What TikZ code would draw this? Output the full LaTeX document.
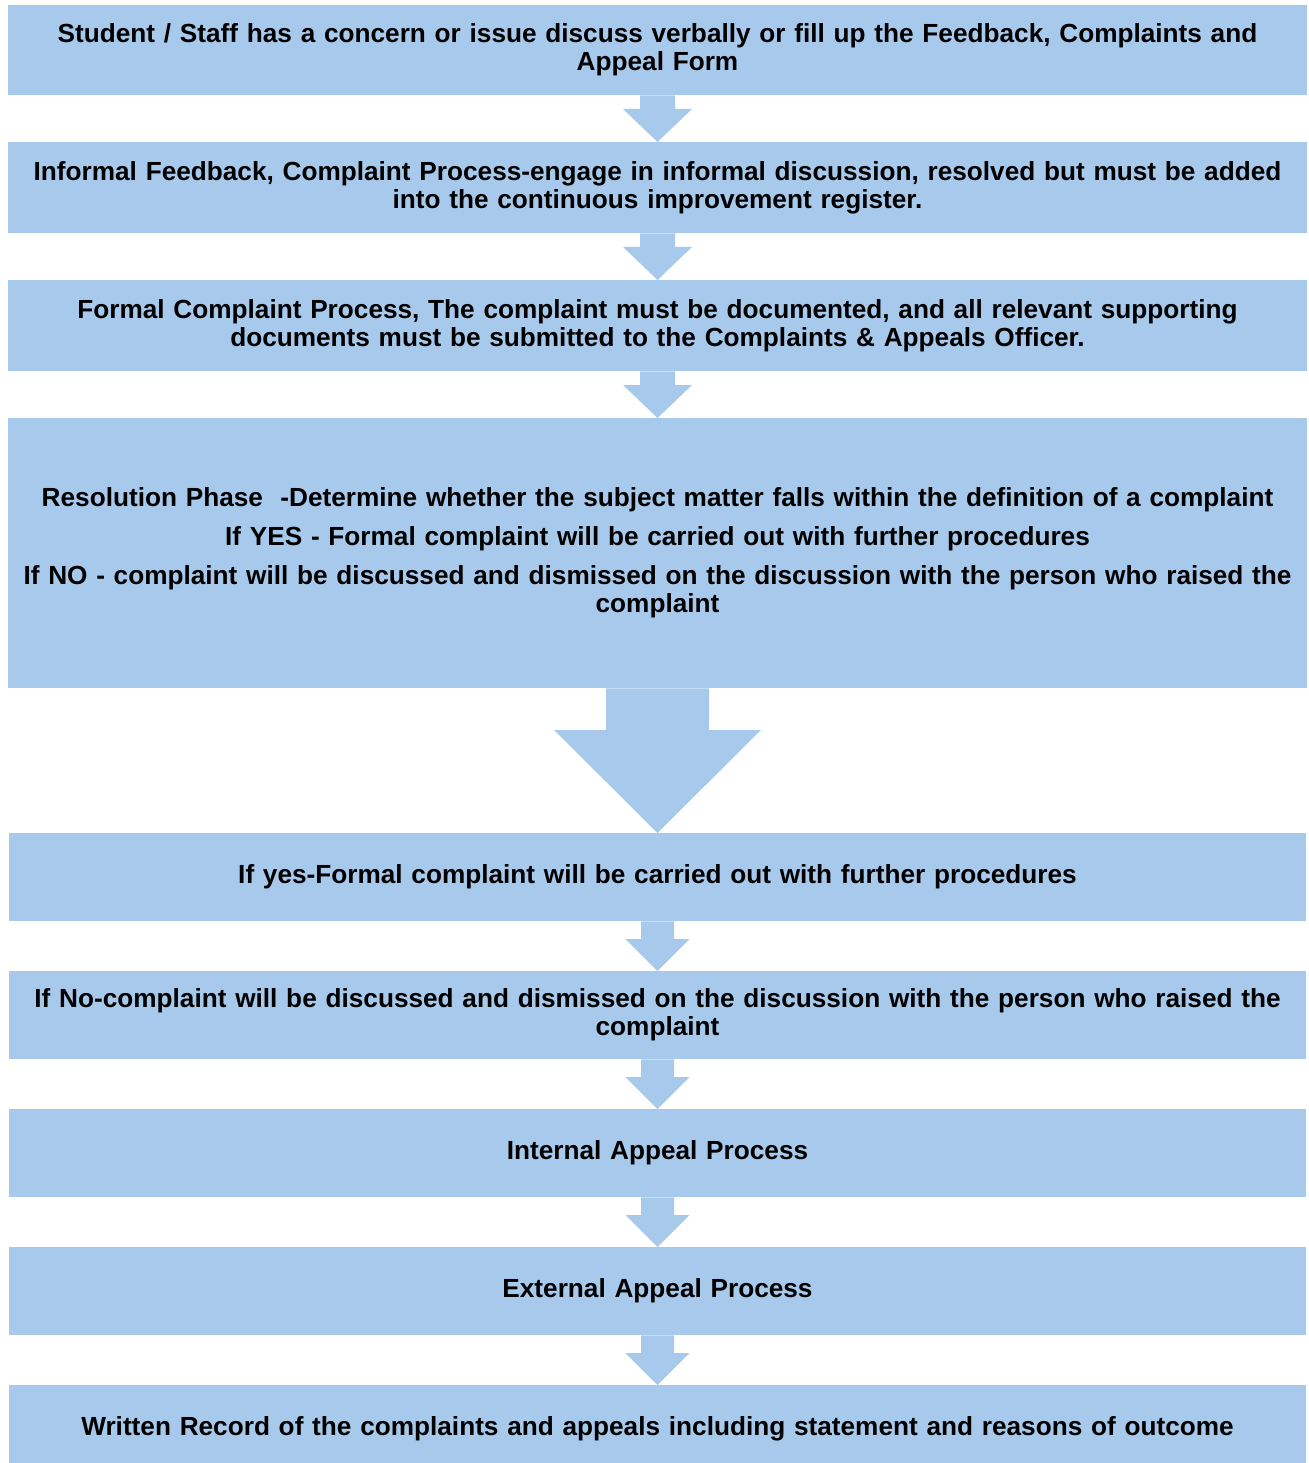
\documentclass[tikz,border=0pt]{standalone}
\usepackage{fontspec}
\setmainfont{Liberation Sans}
\usetikzlibrary{calc}

\definecolor{stepblue}{HTML}{A7CAEC}

\tikzset{
  stepbox/.style={fill=stepblue, anchor=north, inner sep=0pt, minimum width=1299pt,
    text width=1295pt, align=center, font=\fontsize{26.2}{28}\selectfont\bfseries},
}

% arrow from the bottom of one box to the top of the next:
% #1 from, #2 to, #3 half stem, #4 half head, #5 head length
\newcommand{\flowarrow}[5]{%
  \fill[stepblue] ([xshift=-#3]#1.south) -- ([xshift=-#3,yshift=#5]#2.north)
    -- ([xshift=-#4,yshift=#5]#2.north) -- (#2.north)
    -- ([xshift=#4,yshift=#5]#2.north) -- ([xshift=#3,yshift=#5]#2.north)
    -- ([xshift=#3]#1.south) -- cycle;}

\begin{document}
\begin{tikzpicture}[x=1pt,y=-1pt]
    \useasboundingbox (0,0) rectangle (1308,1463);

    \node[stepbox, minimum height=90pt]  (concern)  at (657.5,5)    {Student / Staff has a concern or issue discuss verbally or fill up the Feedback, Complaints and\\ Appeal Form};
    \node[stepbox, minimum height=91pt]  (informal) at (657.5,142)  {Informal Feedback, Complaint Process-engage in informal discussion, resolved but must be added\\ into the continuous improvement register.};
    \node[stepbox, minimum height=91pt]  (formal)   at (657.5,280)  {Formal Complaint Process, The complaint must be documented, and all relevant supporting\\ documents must be submitted to the Complaints \& Appeals Officer.};
    \node[stepbox, minimum height=270pt] (resolve)  at (657.5,418)  {Resolution Phase\ \ -Determine whether the subject matter falls within the definition of a complaint\\[11pt]
      If YES - Formal complaint will be carried out with further procedures\\[11pt]
      If NO - complaint will be discussed and dismissed on the discussion with the person who raised the\\ complaint};
    \node[stepbox, minimum width=1297pt, minimum height=88pt] (ifyes)    at (657.5,833)  {If yes-Formal complaint will be carried out with further procedures};
    \node[stepbox, minimum width=1297pt, minimum height=88pt] (ifno)     at (657.5,971)  {If No-complaint will be discussed and dismissed on the discussion with the person who raised the\\ complaint};
    \node[stepbox, minimum width=1297pt, minimum height=88pt] (internal) at (657.5,1109) {Internal Appeal Process};
    \node[stepbox, minimum width=1297pt, minimum height=88pt] (external) at (657.5,1247) {External Appeal Process};
    \node[stepbox, minimum width=1297pt, minimum height=88pt] (record)   at (657.5,1385) {Written Record of the complaints and appeals including statement and reasons of outcome};

    \flowarrow{concern}{informal}{17.5pt}{34.5pt}{33pt}
    \flowarrow{informal}{formal}{17.5pt}{34.5pt}{33pt}
    \flowarrow{formal}{resolve}{17.5pt}{34.5pt}{33pt}
    \flowarrow{resolve}{ifyes}{51.5pt}{103.5pt}{103pt}
    \flowarrow{ifyes}{ifno}{16.5pt}{32pt}{32pt}
    \flowarrow{ifno}{internal}{16.5pt}{32pt}{32pt}
    \flowarrow{internal}{external}{16.5pt}{32pt}{32pt}
    \flowarrow{external}{record}{16.5pt}{32pt}{32pt}
\end{tikzpicture}
\end{document}
